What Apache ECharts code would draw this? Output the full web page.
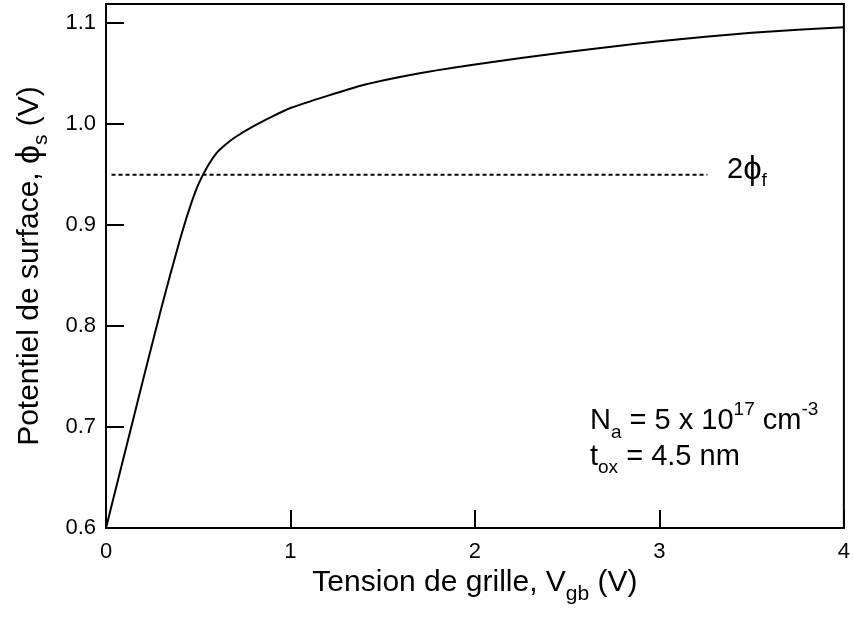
<!DOCTYPE html>
<html>
<head>
<meta charset="utf-8">
<script src="https://cdn.jsdelivr.net/npm/echarts@6/dist/echarts.min.js"></script>
<style>
  html, body { margin: 0; padding: 0; background: #fff; }
  #chart { width: 853px; height: 621px; }
</style>
</head>
<body>
<div id="chart"></div>
<script>
// tension de grille (V) et potentiel de surface (V)
const vgb = [0, 0.1, 0.2, 0.3, 0.35, 0.4, 0.45, 0.5, 0.55, 0.6, 0.65, 0.7, 0.8, 0.9, 1.0,
  1.2, 1.4, 1.6, 1.8, 2.0, 2.25, 2.5, 2.75, 3.0, 3.25, 3.5, 3.75, 4.0]
const phiS = [0.6, 0.673, 0.746, 0.818, 0.852, 0.885, 0.915, 0.940, 0.958, 0.9715, 0.980, 0.987, 0.998, 1.0075, 1.016,
  1.028, 1.039, 1.047, 1.0535, 1.059, 1.0655, 1.0715, 1.077, 1.082, 1.0865, 1.0905, 1.0935, 1.096]

// niveau 2*phi_f (ligne pointillée)
const phiFx = [0.03, 3.26]
const phiFy = [0.95, 0.95]

const xTicks = [0, 1, 2, 3, 4]
const yTicks = [0.6, 0.7, 0.8, 0.9, 1.0, 1.1]

const FONT = 'Liberation Sans, Arial, Helvetica, sans-serif'

const chart = echarts.init(document.getElementById('chart'), null, { renderer: 'canvas' })

// texte avec indices / exposants
function richSet(big, small, lh) {
  return {
    n: { fontSize: big, fontFamily: FONT, color: '#000', lineHeight: lh, verticalAlign: 'middle' },
    sub: { fontSize: small, fontFamily: FONT, color: '#000', lineHeight: small, verticalAlign: 'bottom' },
    sup: { fontSize: small, fontFamily: FONT, color: '#000', lineHeight: small, verticalAlign: 'top' },
    phi: { fontSize: big + 4, fontFamily: FONT, color: '#000', lineHeight: lh, verticalAlign: 'middle' }
  }
}
const richTitle = richSet(30, 21, 44)
const richNote = richSet(29, 19, 42)

chart.setOption({
  animation: false,
  backgroundColor: '#fff',
  grid: {
    left: 106, right: 1, top: 4, bottom: 93,
    show: true, borderColor: '#000', borderWidth: 2, backgroundColor: 'transparent'
  },
  xAxis: {
    type: 'value',
    min: xTicks[0], max: xTicks[xTicks.length - 1], interval: 1,
    axisLine: { show: true, onZero: false, lineStyle: { color: '#000', width: 2 } },
    axisTick: { show: true, inside: true, length: 18, lineStyle: { color: '#000', width: 2 } },
    axisLabel: { color: '#000', fontSize: 22, fontFamily: FONT, margin: 13 },
    splitLine: { show: false },
    nameLocation: 'middle',
    nameGap: 30,
    name: '{n|Tension de grille, V}{sub|gb}{n| (V)}',
    nameTextStyle: { rich: richTitle }
  },
  yAxis: {
    type: 'value',
    min: yTicks[0], max: 1.119, interval: 0.1,
    axisLine: { show: true, onZero: false, lineStyle: { color: '#000', width: 2 } },
    axisTick: { show: true, inside: true, length: 18, lineStyle: { color: '#000', width: 2 } },
    axisLabel: {
      color: '#000', fontSize: 22, fontFamily: FONT, margin: 10,
      formatter: v => yTicks.some(t => Math.abs(t - v) < 1e-6) ? v.toFixed(1) : ''
    },
    splitLine: { show: false },
    nameLocation: 'middle',
    nameGap: 54,
    nameRotate: 90,
    name: '{n|Potentiel de surface, }{phi|ϕ}{sub|s}{n| (V)}',
    nameTextStyle: { rich: richTitle }
  },
  series: [
    {
      type: 'line',
      data: vgb.map((x, i) => [x, phiS[i]]),
      showSymbol: false,
      smooth: 0.15,
      lineStyle: { color: '#000', width: 2 },
      z: 3
    },
    {
      type: 'line',
      data: phiFx.map((x, i) => [x, phiFy[i]]),
      showSymbol: false,
      lineStyle: { color: '#000', width: 2, type: [4, 3] },
      z: 2
    }
  ],
  graphic: [
    {
      type: 'text', left: 727, top: 153,
      style: { text: '{n|2}{phi|ϕ}{sub|f}', rich: richNote }
    },
    {
      type: 'text', left: 590, top: 400,
      style: { text: '{n|N}{sub|a}{n| = 5 x 10}{sup|17}{n| cm}{sup|-3}', rich: richNote }
    },
    {
      type: 'text', left: 590, top: 442,
      style: { text: '{n|t}{sub|ox}{n| = 4.5 nm}', rich: richNote }
    }
  ]
})

window.addEventListener('resize', () => chart.resize())
</script>
</body>
</html>
